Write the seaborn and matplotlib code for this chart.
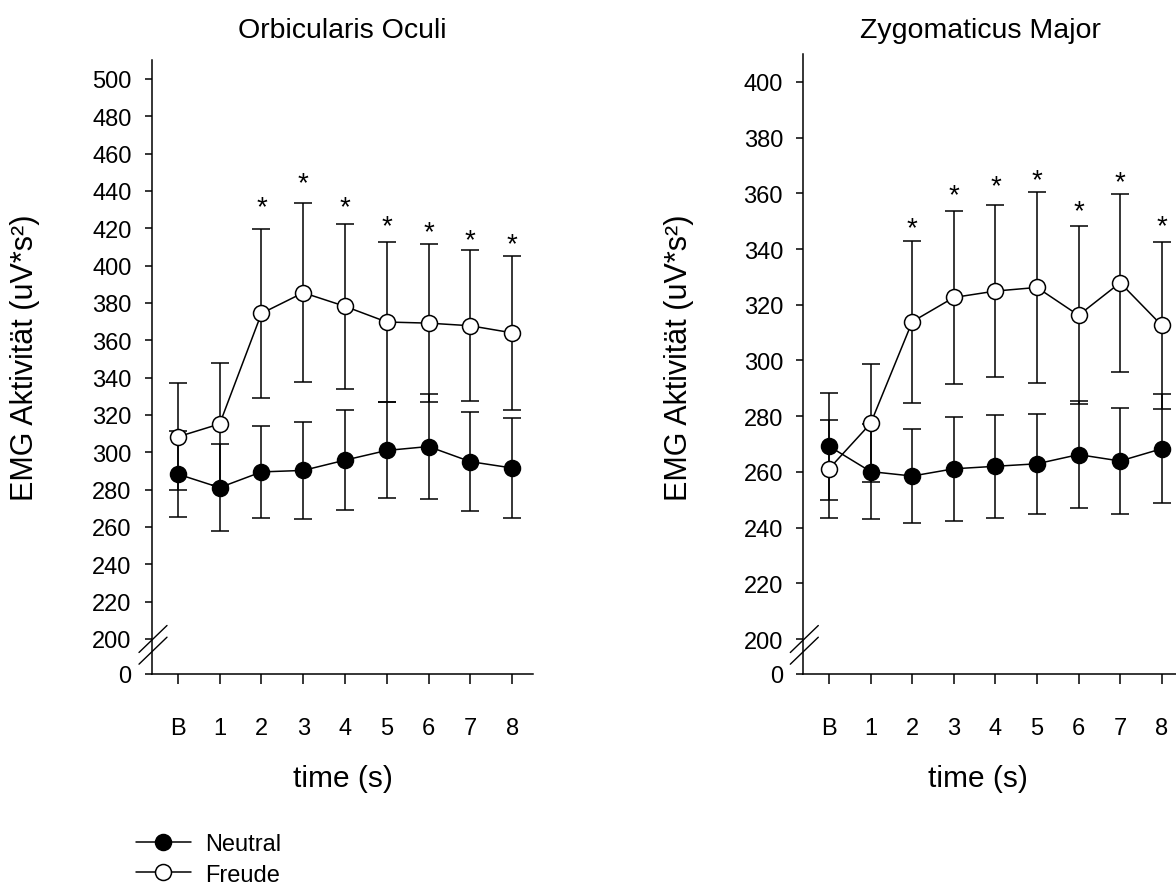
import numpy as np
import pandas as pd
import matplotlib
matplotlib.use("Agg")
import matplotlib.pyplot as plt
import seaborn as sns

# ---------------- data ----------------
categories = ["B", "1", "2", "3", "4", "5", "6", "7", "8"]

oo_neutral = [288.3, 281.1, 289.5, 290.3, 295.8, 301.0, 303.1, 295.0, 291.6]
oo_neutral_err = [23.0, 23.2, 24.7, 25.8, 26.6, 25.7, 28.2, 26.6, 27.0]
oo_freude = [308.3, 315.2, 374.4, 385.5, 378.2, 369.8, 369.2, 367.8, 364.0]
oo_freude_err = [28.6, 32.5, 45.3, 48.0, 44.1, 42.8, 42.3, 40.5, 41.1]
oo_star_y = [np.nan, np.nan, 435.8, 448.7, 435.8, 425.7, 422.4, 418.6, 416.3]

zm_neutral = [269.2, 260.1, 258.5, 261.1, 262.0, 262.9, 266.2, 263.9, 268.3]
zm_neutral_err = [19.2, 17.1, 16.9, 18.6, 18.5, 17.9, 19.2, 19.0, 19.5]
zm_freude = [261.1, 277.4, 313.9, 322.6, 324.9, 326.2, 316.2, 327.9, 312.6]
zm_freude_err = [17.5, 21.2, 29.1, 30.9, 31.0, 34.4, 31.9, 31.9, 30.0]
zm_star_y = [np.nan, np.nan, 350.8, 362.4, 365.7, 367.9, 356.6, 367.0, 351.4]

oo_yticks = [0] + list(range(200, 501, 20))
zm_yticks = [0] + list(range(200, 401, 20))

titles = ["Orbicularis Oculi", "Zygomaticus Major"]
ylabel = "EMG Aktivität (uV*s²)"
xlabel = "time (s)"
series_names = ["Neutral", "Freude"]

# ---------------- style ----------------
sns.set_style("ticks")
plt.rcParams["font.family"] = ["Liberation Sans", "DejaVu Sans"]
plt.rcParams["axes.linewidth"] = 1.1
plt.rcParams["text.color"] = "black"
plt.rcParams["axes.labelcolor"] = "black"

fig = plt.figure(figsize=(11.76, 8.87), dpi=100)
W, H = 1176.0, 887.0


def make_break_scale(k):
    def fwd(v):
        v = np.asarray(v, dtype=float)
        return np.where(v >= 200, v, 200 - (200 - v) * k)

    def inv(u):
        u = np.asarray(u, dtype=float)
        return np.where(u >= 200, u, 200 - (200 - u) / k)

    return fwd, inv


panels = [
    dict(rect=[152 / W, 212 / H, 381 / W, 613.7 / H], k=0.0938, ylim=(0, 510),
         yticks=oo_yticks, neutral=oo_neutral, nerr=oo_neutral_err,
         freude=oo_freude, ferr=oo_freude_err, stars=oo_star_y,
         title_x=342.5 / W, ylab_x=-0.2945, ylab_y=0.517, xlab_x=0.5, xlab_y=-0.1467),
    dict(rect=[803.3 / W, 212 / H, 379.2 / W, 620 / H], k=0.0628, ylim=(0, 410),
         yticks=zm_yticks, neutral=zm_neutral, nerr=zm_neutral_err,
         freude=zm_freude, ferr=zm_freude_err, stars=zm_star_y,
         title_x=980 / W, ylab_x=-0.287, ylab_y=0.512, xlab_x=0.4607, xlab_y=-0.145),
]

axes = []
for i, p in enumerate(panels):
    ax = fig.add_axes(p["rect"])
    axes.append(ax)
    fwd, inv = make_break_scale(p["k"])
    ax.set_yscale("function", functions=(fwd, inv))

    pos = np.arange(len(categories))
    df = pd.DataFrame({"pos": pos, "Neutral": p["neutral"], "Freude": p["freude"]})

    # error bars
    ax.errorbar(pos, p["neutral"], yerr=p["nerr"], fmt="none", ecolor="black",
                elinewidth=1.1, capsize=6.8, capthick=1.1, zorder=2)
    ax.errorbar(pos, p["freude"], yerr=p["ferr"], fmt="none", ecolor="black",
                elinewidth=1.1, capsize=6.8, capthick=1.1, zorder=2)

    sns.lineplot(data=df, x="pos", y="Neutral", ax=ax, color="black", marker="o",
                 markersize=11.5, markerfacecolor="black", markeredgecolor="black",
                 markeredgewidth=1.1, linewidth=1.1, zorder=4, label="Neutral")
    sns.lineplot(data=df, x="pos", y="Freude", ax=ax, color="black", marker="o",
                 markersize=11.5, markerfacecolor="white", markeredgecolor="black",
                 markeredgewidth=1.1, linewidth=1.1, zorder=5, label="Freude")
    if ax.get_legend() is not None:
        ax.get_legend().remove()

    # significance stars
    for x, y in zip(pos, p["stars"]):
        if not np.isnan(y):
            ax.annotate("*", (x, y), xytext=(0, -11.4), textcoords="offset points",
                        ha="center", va="baseline", fontsize=20, color="black",
                        annotation_clip=False)

    ax.set_xlim(-0.62, 8.5)
    ax.set_ylim(*p["ylim"])
    ax.set_xticks(pos)
    ax.set_xticklabels(categories)
    ax.set_yticks(p["yticks"])
    ax.set_yticklabels([str(t) for t in p["yticks"]])
    ax.minorticks_off()
    ax.tick_params(axis="y", direction="out", length=5, width=1.1, pad=9.6,
                   labelsize=17, color="black", labelcolor="black")
    ax.tick_params(axis="x", direction="out", length=7.2, width=1.1, pad=24,
                   labelsize=17, color="black", labelcolor="black")
    for side in ["top", "right"]:
        ax.spines[side].set_visible(False)
    for side in ["left", "bottom"]:
        ax.spines[side].set_color("black")
        ax.spines[side].set_linewidth(1.1)

    ax.set_ylabel(ylabel, fontsize=22, color="black")
    ax.yaxis.set_label_coords(p["ylab_x"], p["ylab_y"])
    ax.set_xlabel(xlabel, fontsize=21.5, color="black")
    ax.xaxis.set_label_coords(p["xlab_x"], p["xlab_y"])

    fig.text(p["title_x"], 1 - 30.6 / H, titles[i], ha="center", va="center",
             fontsize=20.5, color="black")

    # axis break marks
    lo, hi = fwd(p["ylim"][0]), fwd(p["ylim"][1])
    yb = (fwd(200) - lo) / (hi - lo)
    bw = ax.bbox.width
    bh = ax.bbox.height
    for off in (0.0, -11.7):
        ax.plot([-13 / bw, 15 / bw],
                [yb + (off - 13.5) / bh, yb + (off + 13.5) / bh],
                transform=ax.transAxes, color="black", linewidth=1.0,
                clip_on=False, zorder=6)

# legend
handles, labels = axes[0].get_legend_handles_labels()
fig.legend(handles, labels, loc="upper left", bbox_to_anchor=(136 / W, 0.0595),
           frameon=False, fontsize=17, handlelength=2.32, handletextpad=0.6,
           labelspacing=0.36, borderpad=0, borderaxespad=0, numpoints=1,
           labelcolor="black")

fig.savefig("out.png", dpi=100)
